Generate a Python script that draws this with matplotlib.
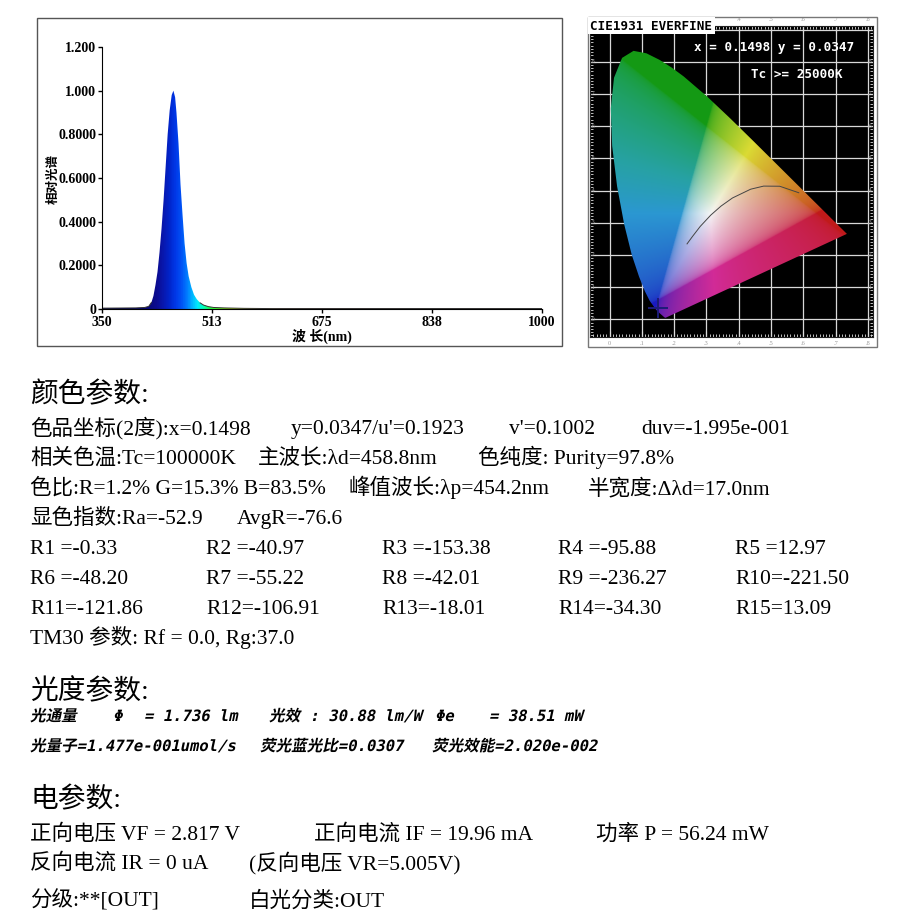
import numpy as np
import matplotlib
matplotlib.use("Agg")
import matplotlib.pyplot as plt
from matplotlib.colors import LinearSegmentedColormap
from matplotlib.patches import Rectangle, Polygon
from matplotlib.patheffects import AbstractPathEffect
from matplotlib.ticker import MultipleLocator
from matplotlib.transforms import Affine2D

W = H = 916

# relative spectrum
wavelength = [350, 400, 413, 419, 423, 426, 429, 432, 435, 438, 441, 444, 447, 450, 453,
              455.5, 458, 460, 463, 466, 469, 472, 475, 478, 482, 486, 490, 495, 500, 507,
              515, 530, 560, 600, 700, 800, 900, 1000]
intensity = [0.004, 0.005, 0.007, 0.012, 0.03, 0.06, 0.11, 0.17, 0.26, 0.37, 0.50, 0.65,
             0.80, 0.91, 0.98, 1.00, 0.97, 0.90, 0.76, 0.57, 0.43, 0.30, 0.21, 0.15, 0.10,
             0.065, 0.045, 0.028, 0.018, 0.011, 0.007, 0.005, 0.003, 0.002, 0.002, 0.002,
             0.002, 0.002]
xtick_vals = [350, 512.5, 675, 837.5, 1000]
xtick_labels = ["350", "513", "675", "838", "1000"]
ytick_vals = [0, 0.2, 0.4, 0.6, 0.8, 1.0, 1.2]
ytick_labels = ["0", "0.2000", "0.4000", "0.6000", "0.8000", "1.000", "1.200"]

# CIE 1931 spectral locus (380-700 nm) and planckian locus
locus_x = [0.1741, 0.1733, 0.1726, 0.1714, 0.1689, 0.1644, 0.1566, 0.1440, 0.1241, 0.1096,
           0.0913, 0.0687, 0.0454, 0.0235, 0.0082, 0.0039, 0.0139, 0.0389, 0.0743, 0.1142,
           0.1547, 0.1929, 0.2296, 0.3016, 0.3731, 0.4441, 0.5125, 0.5752, 0.6270, 0.6658,
           0.6915, 0.7079, 0.7190, 0.7260, 0.7300, 0.7334, 0.7347]
locus_y = [0.0050, 0.0048, 0.0048, 0.0051, 0.0069, 0.0109, 0.0177, 0.0297, 0.0578, 0.0868,
           0.1327, 0.2007, 0.2950, 0.4127, 0.5384, 0.6548, 0.7502, 0.8120, 0.8338, 0.8262,
           0.8059, 0.7816, 0.7543, 0.6923, 0.6245, 0.5547, 0.4866, 0.4242, 0.3725, 0.3340,
           0.3083, 0.2920, 0.2809, 0.2740, 0.2700, 0.2666, 0.2653]
planck_x = [0.5857, 0.5267, 0.4770, 0.4369, 0.3805, 0.3451, 0.3135, 0.2807, 0.2565, 0.2399]
planck_y = [0.3931, 0.4133, 0.4137, 0.4041, 0.3768, 0.3516, 0.3237, 0.2884, 0.2569, 0.2342]
point_x, point_y = 0.1498, 0.0347

# report text
color_lines = [
    [(30, "色品坐标(2度):x=0.1498"), (291, "y=0.0347/u'=0.1923"), (509, "v'=0.1002"),
     (641, "duv=-1.995e-001")],
    [(30, "相关色温:Tc=100000K"), (258, "主波长:λd=458.8nm"), (478, "色纯度: Purity=97.8%")],
    [(30, "色比:R=1.2% G=15.3% B=83.5%"), (348, "峰值波长:λp=454.2nm"),
     (588, "半宽度:Δλd=17.0nm")],
    [(30, "显色指数:Ra=-52.9"), (237, "AvgR=-76.6")],
]
ri_values = [-0.33, -40.97, -153.38, -95.88, 12.97, -48.20, -55.22, -42.01, -236.27,
             -221.50, -121.86, -106.91, -18.01, -34.30, 13.09]
tm30_line = "TM30 参数: Rf = 0.0, Rg:37.0"
photo_lines = [
    [(30, "光通量"), (113, "Φ"), (144, "= 1.736 lm"), (269, "光效 : 30.88 lm/W"),
     (435, "Φe"), (489, "= 38.51 mW")],
    [(30, "光量子=1.477e-001umol/s"), (260, "荧光蓝光比=0.0307"), (432, "荧光效能=2.020e-002")],
]
elec_lines = [
    [(30, "正向电压 VF = 2.817 V"), (314, "正向电流 IF = 19.96 mA"), (596, "功率 P = 56.24 mW")],
    [(30, "反向电流 IR = 0 uA"), (249, "(反向电压 VR=5.005V)")],
    [(30, "分级:**[OUT]"), (249, "白光分类:OUT")],
]

plt.rcParams['font.family'] = ['Liberation Serif', 'Noto Sans CJK SC']
fig = plt.figure(figsize=(W / 100, H / 100), dpi=100)


class Slant(AbstractPathEffect):
    """fake italic: shear the glyph outlines"""
    def __init__(self, deg=12):
        super().__init__()
        self._skew = Affine2D().skew_deg(deg, 0)

    def draw_path(self, renderer, gc, tpath, affine, rgbFace=None):
        renderer.draw_path(gc, tpath, self._skew + affine, rgbFace)


def ftext(x, y, s, **kw):
    kw.setdefault('va', 'center')
    return fig.text(x / W, 1 - y / H, s, ha=kw.pop('ha', 'left'), **kw)


# ---- spectrum panel ----
fig.patches.append(Rectangle((37 / W, 1 - 346 / H), 525 / W, 328 / H, transform=fig.transFigure,
                             fill=False, edgecolor='#555555', lw=1.0))
ax = fig.add_axes([102 / W, 1 - 309 / H, 440 / W, 262 / H])
ax.set_xlim(350, 1000)
ax.set_ylim(0, 1.2)

stops = [(350, '#000040'), (415, '#08087a'), (430, '#0c0c90'), (440, '#0818b0'),
         (450, '#0028d0'), (458, '#0038e8'), (466, '#0050f4'), (474, '#0078ff'),
         (482, '#00b0ff'), (490, '#00e8ff'), (498, '#00ffc0'), (510, '#20ff40'),
         (540, '#a0e000'), (580, '#e0c000'), (620, '#c03000'), (680, '#800000'),
         (800, '#300000'), (1000, '#202020')]
cmap = LinearSegmentedColormap.from_list('spec', [((w - 350) / 650, c) for w, c in stops])
grad = ax.imshow(np.linspace(0, 1, 1000).reshape(1, -1), extent=[350, 1000, 0, 1.2],
                 aspect='auto', cmap=cmap, origin='lower', zorder=1)
wl = np.array(wavelength)
it = np.array(intensity)
shape = Polygon(np.column_stack([np.r_[wl, 1000, 350], np.r_[it, 0, 0]]), closed=True,
                facecolor='none', edgecolor='none', transform=ax.transData)
ax.add_patch(shape)
grad.set_clip_path(shape)
ax.plot(wl, np.where(it > 0.03, np.nan, it), color='#333333', lw=0.7, zorder=2)

for s in ['top', 'right']:
    ax.spines[s].set_visible(False)
ax.set_xticks(xtick_vals)
ax.set_xticklabels(xtick_labels)
ax.set_yticks(ytick_vals)
ax.set_yticklabels(ytick_labels)
ax.tick_params(length=3, width=1, pad=1, labelsize=10)
ax.tick_params(axis='x', pad=2)
for lab in ax.get_xticklabels() + ax.get_yticklabels():
    lab.set_fontweight('bold')
ftext(54, 179, "相对光谱", rotation=90, ha='center', fontsize=9, fontweight='bold')
ftext(322, 336, "波 长(nm)", ha='center', fontsize=10, fontweight='bold')

# ---- CIE panel ----
fig.patches.append(Rectangle((588 / W, 1 - 347 / H), 289 / W, 330 / H, transform=fig.transFigure,
                             fill=False, edgecolor='#777777', lw=1.0))
xl = (-0.0604, 0.8155)
yl = (-0.055, 0.911)
cie = fig.add_axes([590 / W, 1 - 337 / H, 283 / W, 311 / H])
cie.set_facecolor('black')
cie.set_xlim(*xl)
cie.set_ylim(*yl)
cie.set_xticks(np.arange(0, 0.81, 0.1))
cie.set_yticks(np.arange(0, 0.91, 0.1))
cie.xaxis.set_minor_locator(MultipleLocator(0.01))
cie.yaxis.set_minor_locator(MultipleLocator(0.01))
cie.tick_params(which='both', direction='in', colors='#dddddd', top=True, right=True,
                labelbottom=False, labelleft=False)
cie.tick_params(which='major', length=4, width=0.8)
cie.tick_params(which='minor', length=2.5, width=0.6)
cie.set_axisbelow(True)
cie.grid(True, which='major', color='#d8d8d8', lw=0.9)
for s in cie.spines.values():
    s.set_color('#222222')

gx = np.linspace(xl[0], xl[1], 420)
gy = np.linspace(yl[0], yl[1], 460)
X, Y = np.meshgrid(gx, gy)
Yc = np.clip(Y, 1e-3, None)
XYZ = np.stack([X / Yc, np.ones_like(X), (1 - X - Y) / Yc], axis=-1)
M = np.array([[3.2406, -1.5372, -0.4986], [-0.9689, 1.8758, 0.0415], [0.0557, -0.2040, 1.0570]])
rgb = np.clip(XYZ @ M.T, 0, None)
rgb = rgb / (rgb.max(axis=-1, keepdims=True) + 1e-9)
rgb = rgb ** (1 / 2.8)
# muted, print-like look of the scanned chart
R, G, B = rgb[..., 0], rgb[..., 1], rgb[..., 2]
cyan = np.clip(np.minimum(G, B) - R, 0, 1)
magenta = np.clip(np.minimum(R, B) - G, 0, 1)
rgb = np.stack([R, G - 0.35 * cyan, B - 0.35 * magenta], axis=-1)
lum = rgb.mean(axis=-1, keepdims=True)
rgb = 0.68 * rgb + 0.32 * lum
green_dom = np.clip(rgb[..., 1:2] - np.maximum(rgb[..., 0:1], rgb[..., 2:3]), 0, 1)
rgb = np.clip(rgb * (1 - 0.3 * green_dom) * 0.96, 0, 1)
img = cie.imshow(rgb, extent=[xl[0], xl[1], yl[0], yl[1]], origin='lower', aspect='auto',
                 interpolation='bilinear', zorder=1)
gamut = Polygon(np.column_stack([locus_x, locus_y]), closed=True, facecolor='none',
                edgecolor='none', transform=cie.transData)
cie.add_patch(gamut)
img.set_clip_path(gamut)
cie.plot(planck_x, planck_y, color='#444444', lw=0.7, zorder=3)
cie.plot([point_x], [point_y], marker='+', ms=14, mew=1.4, color='#1c1c78', zorder=4)

lab_kw = dict(color='#9a9a9a', fontsize=4.5, ha='center', va='center', clip_on=False)
for v in np.arange(0, 0.81, 0.1):
    s = "0" if v == 0 else ".%d" % round(v * 10)
    cie.text(v, -0.02, s, transform=cie.get_xaxis_transform(), **lab_kw)
    if v > 0.35:
        cie.text(v, 1.02, s, transform=cie.get_xaxis_transform(), **lab_kw)
for v in np.arange(0, 0.85, 0.1):
    s = ".%d" % round(v * 10)
    cie.text(0.012, v, s, transform=cie.get_yaxis_transform(), **lab_kw)
    cie.text(0.99, v, s, transform=cie.get_yaxis_transform(), **lab_kw)

fig.patches.append(Rectangle((588 / W, 1 - 34 / H), 127 / W, 17 / H, transform=fig.transFigure,
                             facecolor='white', edgecolor='none', zorder=3))
mono = dict(family='DejaVu Sans Mono', fontweight='bold', fontsize=9.1)
ftext(590, 26, "CIE1931 EVERFINE", color='black', zorder=4, **mono)
ftext(694, 47, f"x = {point_x:.4f} y = {point_y:.4f}", color='white', zorder=4, **mono)
ftext(751, 74, "Tc >= 25000K", color='white', zorder=4, **mono)

# ---- report text (baseline aligned) ----
for y, head in [(393, "颜色参数:"), (690, "光度参数:"), (798, "电参数:")]:
    ftext(30, y + 9, head, fontsize=20, va='baseline')

body = dict(fontsize=15.5, va='baseline')
for y, line in zip([427, 457, 487, 517], color_lines):
    for x, s in line:
        ftext(x, y + 7, s, **body)

cols = [30, 206, 382, 558, 735]
rows = [547, 577, 607]
for i, v in enumerate(ri_values):
    name = f"R{i + 1} =" if i + 1 < 10 else f"R{i + 1}="
    ftext(cols[i % 5], rows[i // 5] + 7, f"{name}{v:.2f}", **body)
ftext(30, 637 + 7, tm30_line, **body)

ital = dict(family=['DejaVu Sans Mono', 'Noto Sans CJK SC'], fontweight='bold',
            fontsize=11.2, va='baseline', path_effects=[Slant(12)])
for y, line in zip([715, 745], photo_lines):
    for x, s in line:
        ftext(x, y + 6, s, **ital)

for y, line in zip([833, 862, 900], elec_lines):
    for x, s in line:
        ftext(x, y + 7, s, **body)

fig.savefig("out.png", dpi=100)
